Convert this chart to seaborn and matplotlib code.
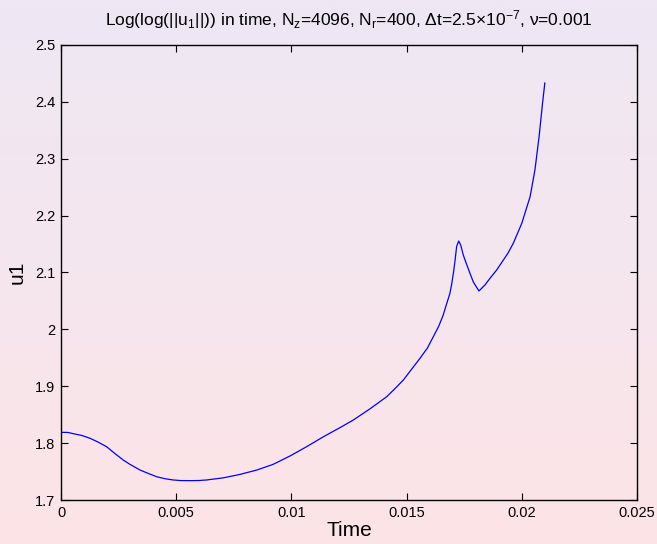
import numpy as np
import pandas as pd
import matplotlib
matplotlib.use("Agg")
import matplotlib.pyplot as plt
import seaborn as sns
from matplotlib.colors import LinearSegmentedColormap

# Log(log(||u1||)) against time
time = [0.0, 0.0003, 0.0006, 0.0009, 0.00126, 0.0016, 0.00198, 0.0023,
        0.0027, 0.0030, 0.00343, 0.0038, 0.00415, 0.0045, 0.00487, 0.0052,
        0.0056, 0.006, 0.00632, 0.00705, 0.00777, 0.0085, 0.00921, 0.00994,
        0.01066, 0.01138, 0.0121, 0.01269, 0.0134, 0.01414, 0.0145, 0.01486,
        0.0152, 0.01558, 0.0159, 0.01616, 0.0164, 0.01659, 0.0167, 0.01688,
        0.01695, 0.01703, 0.0171, 0.01717, 0.01726, 0.01735, 0.01746, 0.0176,
        0.01775, 0.0179, 0.01814, 0.0184, 0.01862, 0.01891, 0.0194, 0.01963,
        0.0200, 0.02036, 0.02057, 0.02075, 0.0209, 0.021]
u1 = [1.819, 1.8188, 1.816, 1.8135, 1.8085, 1.802, 1.7937, 1.783,
      1.7703, 1.7625, 1.7527, 1.7465, 1.741, 1.7375, 1.7352, 1.7342,
      1.734, 1.7343, 1.7352, 1.739, 1.745, 1.7527, 1.7627, 1.7774,
      1.7937, 1.811, 1.827, 1.8407, 1.860, 1.8817, 1.896, 1.911,
      1.929, 1.9491, 1.967, 1.9871, 2.006, 2.0253, 2.040, 2.0634,
      2.078, 2.0986, 2.120, 2.1454, 2.1554, 2.148, 2.1308, 2.115,
      2.0986, 2.083, 2.0675, 2.078, 2.0898, 2.1044, 2.134, 2.1513,
      2.1865, 2.2333, 2.2802, 2.3388, 2.3974, 2.4336]

x_ticks = [0, 0.005, 0.01, 0.015, 0.02, 0.025]
x_tick_labels = ["0", "0.005", "0.01", "0.015", "0.02", "0.025"]
y_ticks = [1.7, 1.8, 1.9, 2.0, 2.1, 2.2, 2.3, 2.4, 2.5]
y_tick_labels = ["1.7", "1.8", "1.9", "2", "2.1", "2.2", "2.3", "2.4", "2.5"]

df = pd.DataFrame({"Time": time, "u1": u1})

sns.set_style("ticks")
plt.rcParams["font.family"] = ["Liberation Sans", "DejaVu Sans"]
plt.rcParams["mathtext.fontset"] = "custom"
plt.rcParams["mathtext.rm"] = "Liberation Sans"
plt.rcParams["mathtext.it"] = "Liberation Sans:italic"
plt.rcParams["mathtext.sf"] = "Liberation Sans"
plt.rcParams["text.color"] = "black"
plt.rcParams["axes.labelcolor"] = "black"

W, H = 657, 544
fig = plt.figure(figsize=(W / 100, H / 100), dpi=100)
fig.patch.set_alpha(0)

# soft vertical background gradient
bg = fig.add_axes([0, 0, 1, 1], zorder=-10)
cmap = LinearSegmentedColormap.from_list(
    "bg", ["#eee8f4", "#f5e6ee", "#fde4e6"])
grad = np.linspace(0, 1, 256).reshape(-1, 1)
bg.imshow(grad, aspect="auto", cmap=cmap, extent=[0, 1, 0, 1])
bg.set_axis_off()

ax = fig.add_axes([61 / W, (H - 500) / H, 576 / W, 455 / H])
ax.set_facecolor("none")

sns.lineplot(data=df, x="Time", y="u1", ax=ax, color="#0000ff",
             linewidth=0.9, estimator=None, sort=False)

ax.set_xlim(0, 0.025)
ax.set_ylim(1.7, 2.5)
ax.set_xticks(x_ticks)
ax.set_xticklabels(x_tick_labels)
ax.set_yticks(y_ticks)
ax.set_yticklabels(y_tick_labels)
ax.tick_params(direction="in", length=5, width=0.8, labelsize=10.5,
               top=True, right=True, colors="black", pad=4)
for s in ax.spines.values():
    s.set_visible(True)
    s.set_linewidth(1.0)
    s.set_color("black")

ax.set_xlabel("Time", fontsize=15, labelpad=1)
ax.set_ylabel("u1", fontsize=15, labelpad=6)
ax.set_title(r"Log(log(||u$_{1}$||)) in time, N$_{\mathrm{z}}$=4096, "
             r"N$_{\mathrm{r}}$=400, Δt=2.5×10$^{-7}$, ν=0.001",
             fontsize=12.5, pad=14)

fig.savefig("out.png", dpi=100)
